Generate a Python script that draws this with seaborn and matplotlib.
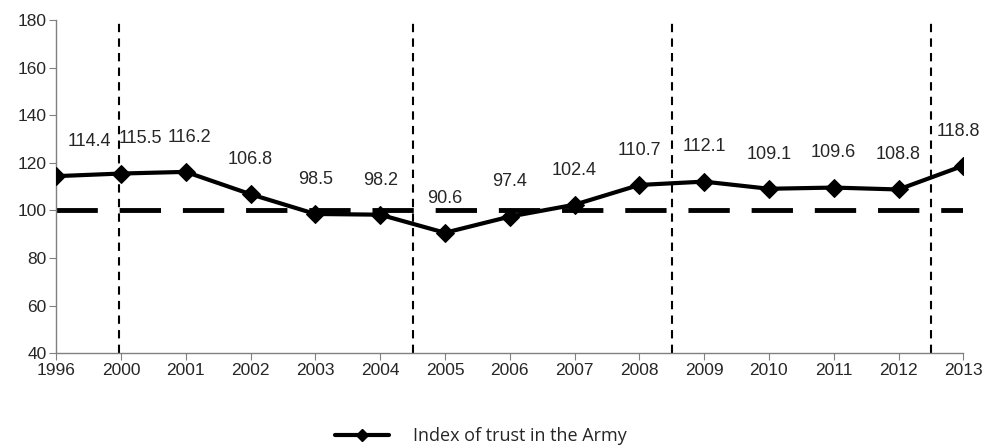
import matplotlib
matplotlib.use("Agg")
import matplotlib.pyplot as plt
import seaborn as sns
import pandas as pd
from matplotlib.lines import Line2D

years = ["1996", "2000", "2001", "2002", "2003", "2004", "2005", "2006",
         "2007", "2008", "2009", "2010", "2011", "2012", "2013"]
trust = [114.4, 115.5, 116.2, 106.8, 98.5, 98.2, 90.6, 97.4,
         102.4, 110.7, 112.1, 109.1, 109.6, 108.8, 118.8]
baseline = 100
# separators: at 2000, between 2004/2005, 2008/2009, 2012/2013
period_breaks = [0.97, 5.5, 9.5, 13.5]
# small horizontal nudges of the data labels (category units)
label_shift = [0.52, 0.3, 0.05, 0, 0, 0, 0, 0, 0, 0, 0, 0, 0, 0, -0.07]

sns.set_style("white")
plt.rcParams['font.family'] = ['Liberation Sans', 'DejaVu Sans']

df = pd.DataFrame({"pos": range(len(years)), "trust": trust})

fig = plt.figure(figsize=(9.85, 4.47), dpi=100)
ax = fig.add_axes([0.057, 0.21, 0.921, 0.745])

# reference line at 100
ax.axhline(baseline, color="black", lw=3.5, ls=(0, (8.5, 4.5)), zorder=1)

# period separators
for b in period_breaks:
    ax.axvline(b, color="black", lw=1.5, ls=(0, (4, 3)), zorder=1)

sns.lineplot(data=df, x="pos", y="trust", ax=ax, color="black", lw=3,
             marker="D", markersize=9, markeredgecolor="black", zorder=3,
             legend=False)

for i, v in enumerate(trust):
    ax.text(i + label_shift[i], v + 11, f"{v}", ha="center", va="bottom",
            fontsize=13, clip_on=False)

ax.set_xlim(0, len(years) - 1)
ax.set_ylim(40, 180)
ax.set_yticks(range(40, 181, 20))
ax.set_xticks(range(len(years)))
ax.set_xticklabels(years)
ax.set_xlabel("")
ax.set_ylabel("")
ax.tick_params(axis="both", labelsize=12.5, length=5, color="#808080",
               direction="out", bottom=True, left=True, pad=2)
for s in ["top", "right"]:
    ax.spines[s].set_visible(False)
for s in ["left", "bottom"]:
    ax.spines[s].set_color("#808080")
    ax.spines[s].set_linewidth(1)

handle = Line2D([], [], color="black", lw=3, marker="D", markersize=6)
fig.legend([handle], ["Index of trust in the Army"], loc="center",
           bbox_to_anchor=(0.488, 0.025), frameon=False, handlelength=3.0,
           handletextpad=1.3,
           prop={"family": "Open Sans", "size": 13})

fig.savefig("out.png", dpi=100)
